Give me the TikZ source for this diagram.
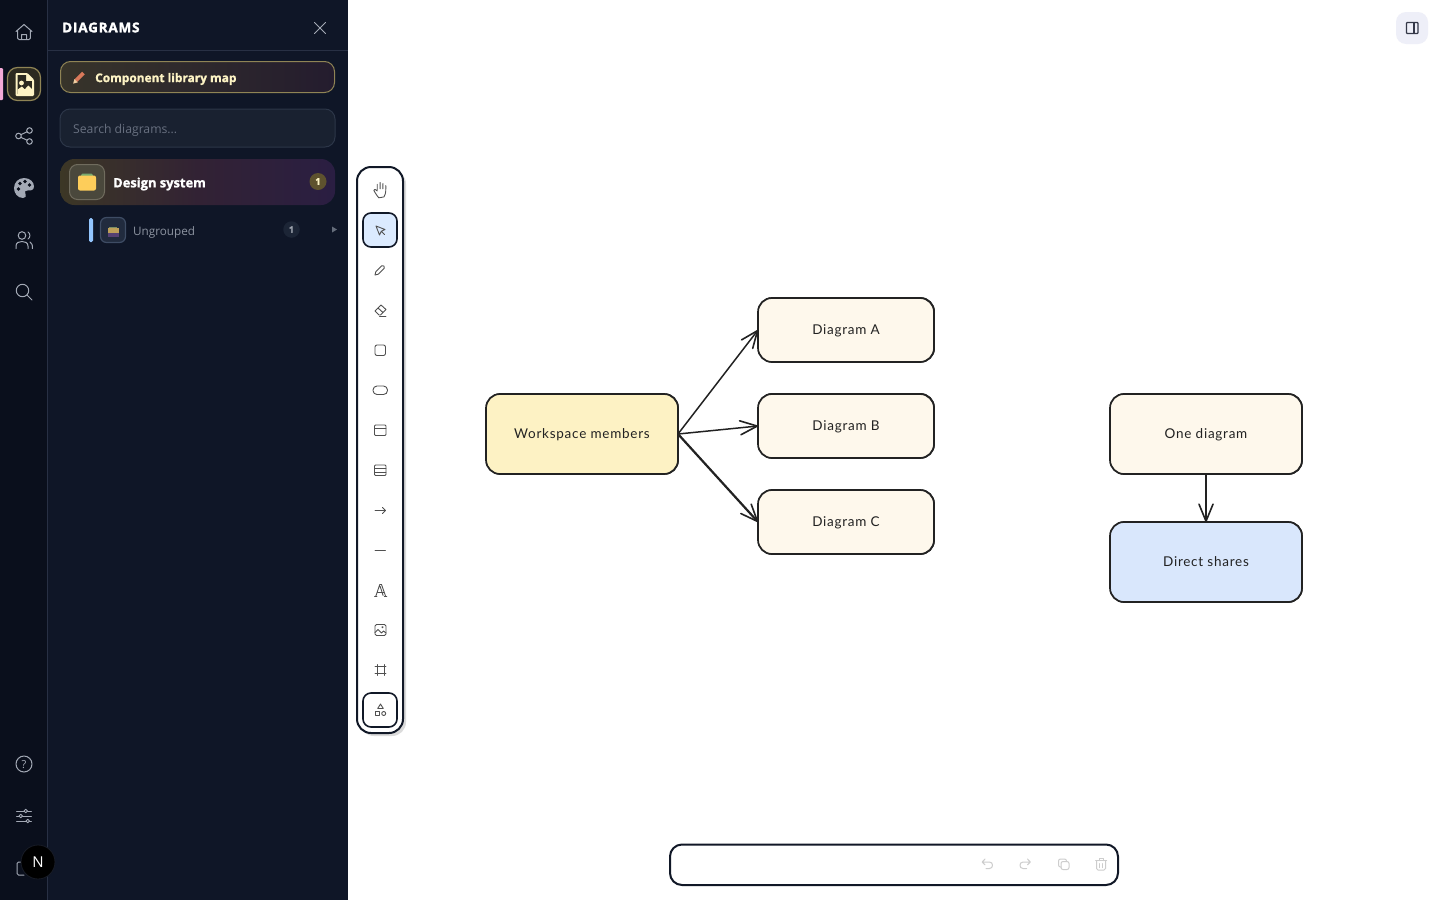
\documentclass[tikz,border=0pt]{standalone}
\usepackage{fontspec}
\setmainfont[BoldFeatures={FakeBold=1.3}]{Open Sans}
\newfontfamily\handfont[LetterSpace=5.5]{Lato}
\newfontfamily\headfont[LetterSpace=6,BoldFeatures={FakeBold=2}]{Open Sans}
\usetikzlibrary{arrows.meta}
\newcommand\flowlabel[1]{\raisebox{-4.4pt}[8pt][8pt]{#1}}
\definecolor{railbg}{HTML}{0A0F1C}
\definecolor{panelbg}{HTML}{0F1627}
\definecolor{sepline}{HTML}{283044}
\definecolor{railicon}{HTML}{A3A9B5}
\definecolor{ink}{HTML}{222222}
\definecolor{tooldark}{HTML}{111827}
\definecolor{toolicon}{HTML}{505050}
\definecolor{creamfill}{HTML}{FEF8EC}
\definecolor{yellowfill}{HTML}{FDF2C4}
\definecolor{bluefill}{HTML}{D9E7FC}
\definecolor{selfill}{HTML}{DBEAFE}
\definecolor{mutedicon}{HTML}{CDCDCD}
\definecolor{gold}{HTML}{8F8455}
\definecolor{cream}{HTML}{FDF3C4}
\definecolor{btnleft}{HTML}{37342A}
\definecolor{btnright}{HTML}{241C2E}
\definecolor{pencilbody}{HTML}{D9795A}
\definecolor{penciltip}{HTML}{F0CDA0}
\definecolor{searchline}{HTML}{2C3648}
\definecolor{searchfill}{HTML}{192130}
\definecolor{searchtextc}{HTML}{687080}
\definecolor{rowleft}{HTML}{3C3726}
\definecolor{rowmid}{HTML}{322234}
\definecolor{rowright}{HTML}{2A1E42}
\definecolor{iconline}{HTML}{706C5E}
\definecolor{iconfill}{HTML}{4A483C}
\definecolor{foldertab}{HTML}{78AA6E}
\definecolor{folderbody}{HTML}{FDCD5A}
\definecolor{badgegold}{HTML}{5E522E}
\definecolor{barblue}{HTML}{93C5FD}
\definecolor{miniline}{HTML}{3E4C64}
\definecolor{minifill}{HTML}{212B3E}
\definecolor{minitab}{HTML}{788C64}
\definecolor{minibody}{HTML}{BEA05A}
\definecolor{minilow}{HTML}{554173}
\definecolor{ungroupedtext}{HTML}{8C93A0}
\definecolor{badgedark}{HTML}{1C2536}
\definecolor{badgetext}{HTML}{A0A6B0}
\definecolor{triangle}{HTML}{646C7A}
\definecolor{activepink}{HTML}{F4AAD7}
\definecolor{activefill}{HTML}{2C2A20}
\definecolor{avatarline}{HTML}{181C26}
\definecolor{topbtn}{HTML}{EEEFF8}
\definecolor{topicon}{HTML}{343848}
\tikzset{
  flowbox/.style={draw=ink,line width=1.7pt,rounded corners=14pt,outer sep=0pt,inner sep=0pt,font=\handfont\fontsize{13.5}{16}\selectfont,text=ink},
  roughline/.style={draw=ink,line width=.7pt,rounded corners=14pt},
  flowarrow/.style={draw=ink,line width=1.5pt,line cap=round,-{Straight Barb[length=17pt,width=14pt,line width=1.6pt,round]}},
  railstroke/.style={draw=railicon,line width=1pt,line cap=round,line join=round,fill=none},
  toolstroke/.style={draw=toolicon,line width=.9pt,line cap=round,line join=round,fill=none},
  mutedstroke/.style={draw=mutedicon,line width=1pt,line cap=round,line join=round,fill=none},
  uitext/.style={inner sep=0pt,anchor=west},
}
\begin{document}
\begin{tikzpicture}[x=1pt,y=-1pt]
\useasboundingbox (0,0) rectangle (1440,900);
\fill[white] (0,0) rectangle (1440,900);
% sidebar
\fill[railbg] (0,0) rectangle (47.5,900);
\fill[panelbg] (47.5,0) rectangle (348,900);
\draw[sepline,line width=1pt] (47.5,0) -- (47.5,900);
\draw[sepline,line width=1pt] (48,50.5) -- (348,50.5);
\node[uitext,text=white,font=\headfont\bfseries\fontsize{13.5}{15}\selectfont] (title) at (62,27.5) {DIAGRAMS};
\draw[railstroke] (314.5,22.5) -- (325.5,33.5) (325.5,22.5) -- (314.5,33.5);
% component button
\shade[rounded corners=10pt,left color=btnleft,right color=btnright] (60.5,61.5) rectangle (334.5,92.5);
\draw[gold,line width=1pt,rounded corners=10pt] (60.5,61.5) rectangle (334.5,92.5);
\draw[pencilbody,line width=3.8pt] (76,80.5) -- (83.5,73);
\fill[penciltip] (73.2,83.6) -- (74.4,79) -- (77.8,82.4) -- cycle;
\node[uitext,text=cream,font=\bfseries\fontsize{11.9}{15}\selectfont] (component) at (95,79) {Component library map};
% search
\node[draw=searchline,fill=searchfill,line width=1pt,rounded corners=10pt,minimum width=275pt,minimum height=38pt,outer sep=0pt] (search) at (197.5,128) {};
\node[uitext,text=searchtextc,font=\fontsize{12.2}{15}\selectfont] (searchtext) at (73,130.5) {Search diagrams...};
% design system
\shade[rounded corners=14pt,left color=rowleft,right color=rowright,middle color=rowmid] (60.5,159) rectangle (335,205);
\draw[iconline,fill=iconfill,line width=1pt,rounded corners=8pt] (69.5,164.5) rectangle (104.5,199.5);
\fill[foldertab,rounded corners=1.5pt] (81,173.5) rectangle (93,178);
\fill[folderbody,rounded corners=2pt] (78,175.5) rectangle (96,190.5);
\node[uitext,text=white,font=\bfseries\fontsize{12.9}{15}\selectfont] (design) at (113,184) {Design system};
\node[circle,fill=badgegold,minimum size=17pt,inner sep=0pt,text=cream,font=\bfseries\fontsize{9.5}{10}\selectfont] (designbadge) at (318,181.5) {1};
% ungrouped
\fill[barblue,rounded corners=1.5pt] (89,218) rectangle (93,242);
\draw[miniline,fill=minifill,line width=1.2pt,rounded corners=6pt] (100.5,217.5) rectangle (125.5,242.5);
\fill[minitab] (109,226.5) rectangle (117,230);
\fill[minibody] (107.5,228) rectangle (118.5,232.5);
\fill[minilow] (107.5,232.5) rectangle (118.5,236.5);
\node[uitext,text=ungroupedtext,font=\fontsize{11.7}{15}\selectfont] (ungrouped) at (133,232) {Ungrouped};
\node[circle,fill=badgedark,minimum size=16.5pt,inner sep=0pt,text=badgetext,font=\bfseries\fontsize{9}{10}\selectfont] (ungroupedbadge) at (291.5,229.5) {1};
\fill[triangle] (332,226.5) -- (337,229.5) -- (332,232.5) -- cycle;
% rail: home
\begin{scope}[shift={(24,32)}]
\draw[railstroke] (-8,-.5) -- (0,-7.5) -- (8,-.5) (-6.3,-2) -- (-6.3,6.3) to[out=-90,in=180] (-5,7.5) -- (5,7.5) to[out=0,in=-90] (6.3,6.3) -- (6.3,-2) (-2.5,7.5) -- (-2.5,2.5) -- (2.5,2.5) -- (2.5,7.5);
\end{scope}
% rail: active file
\fill[activepink,rounded corners=1pt] (-2,68) rectangle (3,100);
\draw[gold,line width=1.2pt,fill=activefill,rounded corners=10pt] (7.5,67.5) rectangle (40.5,100.5);
\begin{scope}[shift={(24.5,84.5)}]
\fill[cream,rounded corners=1.2pt] (-9,-11.5) -- (3,-11.5) -- (9.5,-5) -- (9.5,11.5) -- (-9,11.5) -- cycle;
\fill[activefill] (-6.8,-9.3) -- (1.5,-9.3) -- (1.5,-3.4) -- (7.3,-3.4) -- (7.3,9.3) -- (-6.8,9.3) -- cycle;
\fill[cream] (-3,-1.5) circle (2.4pt);
\fill[cream] (-6.8,9.3) -- (-6.8,5) -- (-2.6,2) -- (.3,4.8) -- (3.8,1) -- (7.3,4.5) -- (7.3,9.3) -- cycle;
\end{scope}
% rail: share
\begin{scope}[shift={(24,136)}]
\draw[railstroke] (-5.5,0) circle (2.8pt) (5.5,-5.5) circle (2.8pt) (5.5,5.5) circle (2.8pt) (-2.9,-1.4) -- (2.9,-4.2) (-2.9,1.4) -- (2.9,4.2);
\end{scope}
% rail: palette
\begin{scope}[shift={(24,188)}]
\fill[railicon] (0,-10) .. controls (6,-10) and (10,-6) .. (10,-1.5) .. controls (10,2.5) and (6,3) .. (3.5,2.5) .. controls (1,2) and (0,4) .. (1.5,6) .. controls (3,8.5) and (1,10) .. (-1,10) .. controls (-6.5,10) and (-10,5) .. (-10,0) .. controls (-10,-5.5) and (-5.5,-10) .. (0,-10) -- cycle;
\fill[railbg] (-5.5,1) circle (1.8pt) (-4,-4.5) circle (1.8pt) (1,-6.5) circle (1.8pt) (5.5,-3) circle (1.8pt);
\end{scope}
% rail: users
\begin{scope}[shift={(24,240)}]
\draw[railstroke] (-2,-4.5) circle (3.8pt) (-8,8.5) -- (-8,6) .. controls (-8,2.5) and (-5,1.5) .. (-2,1.5) .. controls (1,1.5) and (4,2.5) .. (4,6) -- (4,8.5) (4,-8) .. controls (6.5,-7) and (6.5,-2) .. (4,-1) (6,2) .. controls (8,3) and (8.5,5) .. (8.5,8.5);
\end{scope}
% rail: search
\begin{scope}[shift={(24,292)}]
\draw[railstroke] (-1.5,-1.5) circle (6.2pt) (3,3) -- (8,8);
\end{scope}
% rail: help
\begin{scope}[shift={(24,764)}]
\draw[railstroke] (0,0) circle (8pt);
\node[text=railicon,inner sep=0pt,font=\fontsize{11}{12}\selectfont] (helpmark) at (0,.5) {?};
\end{scope}
% rail: sliders
\begin{scope}[shift={(24,816)}]
\draw[railstroke,line width=.9pt] (-7.5,-5) -- (0,-5) (3.5,-5) -- (7.5,-5) (-7.5,0) -- (-5,0) (-1.5,0) -- (7.5,0) (-7.5,5) -- (2,5) (5.5,5) -- (7.5,5);
\draw[railstroke,line width=.9pt] (1.8,-5) circle (1.8pt) (-3.2,0) circle (1.8pt) (3.8,5) circle (1.8pt);
\end{scope}
% rail: bottom icon and avatar
\draw[railstroke,rounded corners=1.5pt] (24,875) -- (17,875) -- (17,862) -- (24,862);
\node[circle,fill=black,draw=avatarline,line width=.8pt,minimum size=34pt,inner sep=0pt,text=white,font=\fontsize{15}{16}\selectfont] (avatar) at (38,862) {N};
% vertical toolbar
\fill[black!14,rounded corners=14pt] (360,170) rectangle (406,736);
\draw[tooldark,fill=white,line width=2pt,rounded corners=14pt] (357,167) rectangle (403,733);
\draw[tooldark,fill=selfill,line width=1.6pt,rounded corners=8pt] (363,213) rectangle (397,247);
\draw[tooldark,fill=white,line width=1.6pt,rounded corners=8pt] (363,693) rectangle (397,727);
% hand
\begin{scope}[shift={(380.5,190)},scale=1.15]
\draw[toolstroke] (-2.8,0) -- (-2.8,-5) (-.3,-1) -- (-.3,-6.5) (2.1,-1) -- (2.1,-5.6) (4.6,0) -- (4.6,-3.8) .. controls (4.6,-1) and (5,3) .. (3,6) -- (-1.5,6.8) .. controls (-3,5) and (-5,2) .. (-5.8,.3) .. controls (-5.8,-1) and (-4,-.8) .. (-2.8,.8);
\end{scope}
% cursor
\begin{scope}[shift={(380.5,230.5)}]
\draw[toolstroke,draw=toolicon] (-4.5,-4.5) -- (4.5,-1) -- (.8,.8) -- (-1,4.5) -- cycle (.8,.8) -- (4,4);
\end{scope}
% pencil
\begin{scope}[shift={(380,270)}]
\draw[toolstroke] (-5,5) -- (-4.2,1.7) -- (1.8,-4.3) .. controls (3,-5.5) and (5.5,-3) .. (4.3,-1.8) -- (-1.7,4.2) -- cycle;
\end{scope}
% eraser
\begin{scope}[shift={(380.5,310.5)}]
\draw[toolstroke] (-5.5,.5) -- (.5,-5.5) -- (5.5,-1) -- (0,4.5) -- (-1.5,4.5) -- cycle (-2.5,-2.5) -- (2.5,2) (-1,6) -- (5.5,6);
\end{scope}
% rectangle
\draw[toolstroke,rounded corners=2pt] (375,345) rectangle (385.5,355.5);
% pill
\draw[toolstroke,rounded corners=4pt] (373,386) rectangle (387.5,394.5);
% window
\draw[toolstroke,rounded corners=1pt] (374.5,425) rectangle (386,435.5);
\draw[toolstroke] (374.5,428) -- (386,428);
% table
\draw[toolstroke,rounded corners=1pt] (374.5,465) rectangle (386,475.5);
\draw[toolstroke] (374.5,468.5) -- (386,468.5) (374.5,472) -- (386,472);
% arrow
\draw[toolstroke] (375,510.5) -- (385.5,510.5) (382.5,507.5) -- (385.5,510.5) -- (382.5,513.5);
% line
\draw[toolstroke] (375,550) -- (385.5,550);
% text icon
\begin{scope}[shift={(380.5,590.5)}]
\draw[toolstroke] (-6,6) -- (-3.5,6) (-4.8,6) -- (-.7,-6) -- (1,-6) -- (5.2,6) (3.8,6) -- (6.3,6) (-3,2) -- (3.5,2) (-.3,-4) -- (2.6,5);
\end{scope}
% image
\begin{scope}[shift={(380.5,630)}]
\draw[toolstroke,rounded corners=1.5pt] (-5.5,-5.5) rectangle (5.5,5.5);
\draw[toolstroke] (-5.5,2.5) -- (-2.5,-.5) -- (1,3) -- (3,1) -- (5.5,3) (2,-2.8) circle (.6pt);
\end{scope}
% frame
\begin{scope}[shift={(380.5,670)}]
\draw[toolstroke] (-5.5,-3.5) -- (5.5,-3.5) (-5.5,3.5) -- (5.5,3.5) (-3.5,-5.5) -- (-3.5,5.5) (3.5,-5.5) -- (3.5,5.5);
\end{scope}
% shapes
\begin{scope}[shift={(380.5,710)}]
\draw[toolstroke] (0,-6) -- (2.8,-1.5) -- (-2.8,-1.5) -- cycle;
\draw[toolstroke] (-5.2,1.5) rectangle (-1.2,5.5);
\draw[toolstroke] (3.2,3.5) circle (2pt);
\end{scope}
% top-right button
\fill[topbtn,rounded corners=10pt] (1396,12) rectangle (1428,44);
\draw[topicon,line width=1.2pt,rounded corners=.8pt] (1406.5,22.5) rectangle (1418,33.5);
\draw[topicon,line width=1.2pt] (1414,22.5) -- (1414,33.5);
% diagram nodes
\node[flowbox,fill=yellowfill,minimum width=192pt,minimum height=80pt] (workspace) at (582,434) {\flowlabel{Workspace members}};
\node[flowbox,fill=creamfill,minimum width=176pt,minimum height=64pt] (diagrama) at (846,330) {\flowlabel{Diagram A}};
\node[flowbox,fill=creamfill,minimum width=176pt,minimum height=64pt] (diagramb) at (846,426) {\flowlabel{Diagram B}};
\node[flowbox,fill=creamfill,minimum width=176pt,minimum height=64pt] (diagramc) at (846,522) {\flowlabel{Diagram C}};
\node[flowbox,fill=creamfill,minimum width=192pt,minimum height=80pt] (onediagram) at (1206,434) {\flowlabel{One diagram}};
\node[flowbox,fill=bluefill,minimum width=192pt,minimum height=80pt] (directshares) at (1206,562) {\flowlabel{Direct shares}};
% second rough strokes
\draw[roughline] ([shift={(.5,-.4)}]workspace.north west) rectangle ([shift={(.5,.4)}]workspace.south east);
\draw[roughline] ([shift={(.3,-.5)}]diagrama.north west) rectangle ([shift={(.6,.3)}]diagrama.south east);
\draw[roughline] ([shift={(.3,-.6)}]diagramb.north west) rectangle ([shift={(.5,.4)}]diagramb.south east);
\draw[roughline] ([shift={(.3,-.4)}]diagramc.north west) rectangle ([shift={(.5,.5)}]diagramc.south east);
\draw[roughline] ([shift={(.3,-.4)}]onediagram.north west) rectangle ([shift={(.5,.5)}]onediagram.south east);
\draw[roughline] ([shift={(.3,-.4)}]directshares.north west) rectangle ([shift={(.4,.5)}]directshares.south east);
% connectors
\draw[flowarrow] (workspace.east) -- (diagrama.west);
\draw[flowarrow] (workspace.east) -- (diagramb.west);
\draw[flowarrow,line width=2.2pt] (workspace.east) -- (diagramc.west);
\draw[flowarrow] (onediagram.south) -- (directshares.north);
% bottom toolbar
\draw[tooldark,fill=white,line width=2pt,rounded corners=12pt] (670,844.5) rectangle (1118,885);
\begin{scope}[shift={(987.5,864)}]
\draw[mutedstroke] (-5,-2) -- (2,-2) .. controls (6,-2) and (6,4.5) .. (2,4.5) -- (-1.5,4.5) (-2.5,-5) -- (-5.3,-2) -- (-2.5,.8);
\end{scope}
\begin{scope}[shift={(1025,864)}]
\draw[mutedstroke] (5,-2) -- (-2,-2) .. controls (-6,-2) and (-6,4.5) .. (-2,4.5) -- (1.5,4.5) (2.5,-5) -- (5.3,-2) -- (2.5,.8);
\end{scope}
\begin{scope}[shift={(1063.5,864)}]
\draw[mutedstroke,rounded corners=2pt] (-2.5,-2.5) rectangle (5.5,5.5);
\draw[mutedstroke,rounded corners=2pt] (-2.5,3) -- (-5,3) -- (-5,-5) -- (3,-5) -- (3,-2.5);
\end{scope}
\begin{scope}[shift={(1101,864)}]
\draw[mutedstroke] (-5.5,-3.5) -- (5.5,-3.5) (-2,-3.5) -- (-2,-6) -- (2,-6) -- (2,-3.5) (-1.7,-.5) -- (-1.7,3.5) (1.7,-.5) -- (1.7,3.5);
\draw[mutedstroke,rounded corners=1.5pt] (-4.5,-3.5) -- (-4.5,6) -- (4.5,6) -- (4.5,-3.5);
\end{scope}
\end{tikzpicture}
\end{document}
